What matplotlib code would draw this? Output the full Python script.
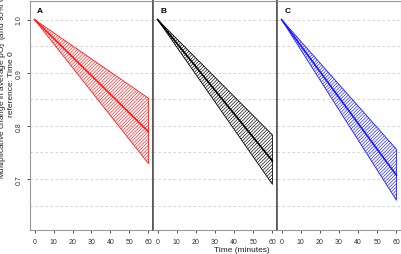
import matplotlib.pyplot as plt

plt.rcParams['font.family'] = ['Liberation Sans', 'DejaVu Sans']
plt.rcParams['hatch.linewidth'] = 0.45

# time points (minutes) and model estimates
time = [0, 60]
panels = ["A", "B", "C"]
colors = ["#ff1a1a", "#000000", "#1a1aff"]
est = [[1.0, 0.789], [1.0, 0.734], [1.0, 0.707]]
lower = [[1.0, 0.729], [1.0, 0.690], [1.0, 0.660]]
upper = [[1.0, 0.852], [1.0, 0.783], [1.0, 0.756]]

xticks = [0, 10, 20, 30, 40, 50, 60]
yticks = [0.7, 0.8, 0.9, 1.0]
grid_y = [0.65, 0.70, 0.75, 0.80, 0.85, 0.90, 0.95, 1.00]

W, H = 402, 255
fig = plt.figure(figsize=(W / 100, H / 100), dpi=100)

edges = [30, 153, 277, 401]
bottom, top = 231, 2

for i in range(3):
    ax = fig.add_axes([edges[i] / W, 1 - bottom / H,
                       (edges[i + 1] - edges[i]) / W, (bottom - top) / H])
    c = colors[i]
    for g in grid_y:
        ax.axhline(g, color="#cccccc", lw=0.6, ls=(0, (3, 3)), zorder=0)
    ax.fill_between(time, lower[i], upper[i], facecolor="none",
                    edgecolor=c, hatch="//////////", linewidth=0.6, zorder=2)
    ax.plot(time, est[i], color=c, lw=1.2, zorder=3)
    ax.text(3, 1.017, panels[i], fontsize=6, fontweight="bold",
            ha="center", va="center")

    ax.set_xlim(-2.4, 62.4)
    ax.set_ylim(0.604, 1.035)
    ax.set_xticks(xticks)
    ax.tick_params(axis="x", direction="out", length=2.5, width=0.6,
                   labelsize=5, pad=3, colors="#333333")
    if i == 0:
        ax.set_yticks(yticks)
        ax.set_yticklabels([f"{v:.1f}" for v in yticks], rotation=90,
                           va="center")
        ax.tick_params(axis="y", direction="out", length=2.5, width=0.6,
                       labelsize=5, pad=3, colors="#333333")
    else:
        ax.set_yticks([])

    for side, sp in ax.spines.items():
        sp.set_color("#999999")
        sp.set_linewidth(0.8)
    if i > 0:
        ax.spines["left"].set_color("#555555")
        ax.spines["left"].set_linewidth(1.2)
    if i < 2:
        ax.spines["right"].set_color("#555555")
        ax.spines["right"].set_linewidth(1.2)

fig.text(6 / W, 1 - 84 / H,
         "Multiplicative change in average pO$_2$ (and 95% CI)\nreference: Time 0",
         rotation=90, ha="center", va="center", fontsize=6,
         color="#222222", linespacing=1.05)
fig.text(242 / W, 1 - 251 / H, "Time (minutes)", ha="center", va="center",
         fontsize=6, color="#222222")

fig.savefig("out.png", dpi=100)
